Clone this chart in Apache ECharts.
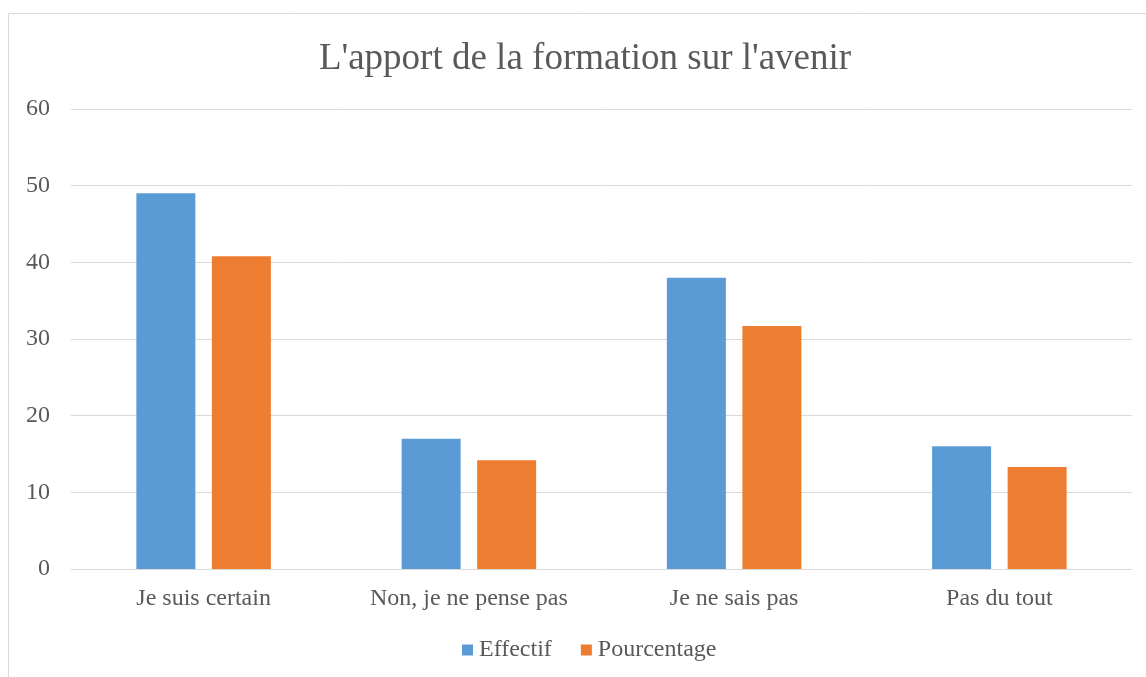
<!DOCTYPE html>
<html>
<head>
<meta charset="utf-8">
<script src="https://cdn.jsdelivr.net/npm/echarts@6/dist/echarts.min.js"></script>
<style>
html,body{margin:0;padding:0;background:#fff;}
#chart{width:1146px;height:677px;}
</style>
</head>
<body>
<div id="chart"></div>
<script>
var categories = ['Je suis certain', 'Non, je ne pense pas', 'Je ne sais pas', 'Pas du tout'];
var effectif = [49, 17, 38, 16];
var pourcentage = [40.8, 14.2, 31.7, 13.3];
var seriesNames = ['Effectif', 'Pourcentage'];
var titleText = "L'apport de la formation sur l'avenir";

var font = '"Liberation Serif", "Times New Roman", serif';
var textColor = '#595959';
var chart = echarts.init(document.getElementById('chart'), null, {renderer: 'canvas'});
chart.setOption({
  animation: false,
  backgroundColor: '#ffffff',
  color: ['#5B9BD5', '#ED7D31'],
  graphic: [{
    type: 'rect',
    shape: {x: 8.5, y: 13.5, width: 1200, height: 700},
    style: {fill: 'none', stroke: '#d9d9d9', lineWidth: 1},
    silent: true
  }],
  title: {
    text: titleText,
    left: 585,
    top: 41,
    padding: 0,
    textAlign: 'center',
    textStyle: {fontFamily: font, fontSize: 37, fontWeight: 'normal', color: textColor}
  },
  legend: {
    data: seriesNames,
    left: 462,
    top: 638,
    padding: 0,
    itemWidth: 11,
    itemHeight: 11,
    itemGap: 29,
    icon: 'rect',
    textStyle: {fontFamily: font, fontSize: 24, color: textColor, padding: [0, 0, 0, 1]}
  },
  grid: {left: 71, right: 14, top: 109, bottom: 108, containLabel: false},
  xAxis: {
    type: 'category',
    data: categories,
    axisLine: {show: true, lineStyle: {color: '#d9d9d9', width: 1}},
    axisTick: {show: false},
    axisLabel: {fontFamily: font, fontSize: 24, color: textColor, margin: 18, interval: 0}
  },
  yAxis: {
    type: 'value',
    min: 0,
    max: 60,
    interval: 10,
    axisLine: {show: false},
    axisTick: {show: false},
    axisLabel: {fontFamily: font, fontSize: 24, color: textColor, margin: 21, padding: [5, 0, 0, 0]},
    splitLine: {lineStyle: {color: '#d9d9d9', width: 1}}
  },
  series: [
    {name: seriesNames[0], type: 'bar', data: effectif, barWidth: 59, barGap: '28%'},
    {name: seriesNames[1], type: 'bar', data: pourcentage, barWidth: 59, barGap: '28%'}
  ]
});
</script>
</body>
</html>
